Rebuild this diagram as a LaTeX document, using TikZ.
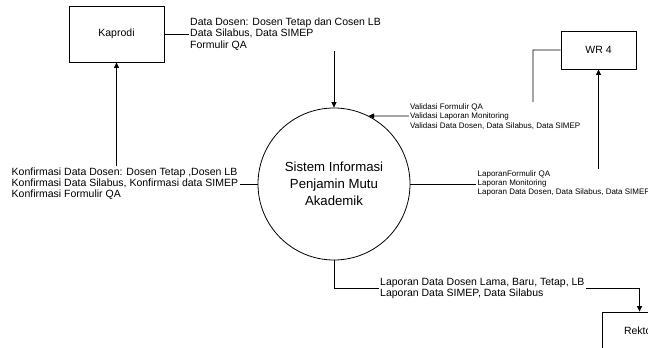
\documentclass[tikz,border=0pt]{standalone}
\usepackage{fontspec}
\setmainfont{Liberation Sans}
\usetikzlibrary{arrows.meta}
\begin{document}
\begin{tikzpicture}[x=1pt,y=-1pt,
  entity/.style={draw,line width=0.8pt,font=\fontsize{10.5}{12}\selectfont,inner sep=0pt},
  process/.style={draw,circle,line width=0.8pt,minimum size=152pt,inner sep=0pt,align=center,
    font=\fontsize{13.2}{17}\selectfont},
  flow/.style={line width=0.8pt,-{Triangle[length=5.5pt,width=5pt]}},
  biglabel/.style={fill=white,align=left,inner sep=1.5pt,font=\fontsize{10.5}{11.2}\selectfont},
  smalllabel/.style={fill=white,align=left,inner sep=1.5pt,font=\fontsize{8}{9.4}\selectfont}]
\useasboundingbox (0,0) rectangle (648,348);

% external entities and the central process
\node[entity,minimum width=95pt,minimum height=56pt] (kaprodi) at (116.5,34) {Kaprodi};
\node[entity,minimum width=75pt,minimum height=38pt] (wr4) at (598.5,50) {WR 4};
\node[entity,minimum width=75pt,minimum height=38pt] (rektor) at (639.5,331) {Rektor};
\node[process] (sys) at (334,184) {Sistem Informasi\\Penjamin Mutu\\Akademik};

% bend points
\coordinate (vbend) at (533,116);
\coordinate (rbend) at (334,288);

% data flows
\draw[flow] (kaprodi.east) -| (sys.north);
\draw[flow] (wr4.west) -| (vbend) -- (sys.63.5);
\draw[flow] (sys.east) -| (wr4.south);
\draw[flow] (sys.west) -| (kaprodi.south);
\draw[flow] (sys.south) -- (rbend) -| (rektor.north);

% flow labels
\node[biglabel,anchor=west] (l1) at (188.5,34)
  {Data Dosen: Dosen Tetap dan Cosen LB\\Data Silabus, Data SIMEP\\Formulir QA};
\node[smalllabel,anchor=west] (l2) at (408.5,116.5)
  {Validasi Formulir QA\\Validasi Laporan Monitoring\\Validasi Data Dosen, Data Silabus, Data SIMEP};
\node[smalllabel,anchor=west] (l3) at (476,183.5)
  {LaporanFormulir QA\\Laporan Monitoring\\Laporan Data Dosen, Data Silabus, Data SIMEP};
\node[biglabel,anchor=west] (l4) at (10,183.5)
  {Konfirmasi Data Dosen: Dosen Tetap ,Dosen LB\\Konfirmasi Data Silabus, Konfirmasi data SIMEP\\Konfirmasi Formulir QA};
\node[biglabel,anchor=west] (l5) at (378.5,288.5)
  {Laporan Data Dosen Lama, Baru, Tetap, LB\\Laporan Data SIMEP, Data Silabus};
\end{tikzpicture}
\end{document}
